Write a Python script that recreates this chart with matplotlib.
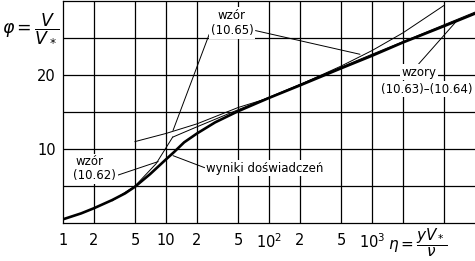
import numpy as np
import matplotlib
matplotlib.use("Agg")
import matplotlib.pyplot as plt

plt.rcParams['font.family'] = ['DejaVu Sans']
plt.rcParams['mathtext.fontset'] = 'dejavusans'

# experimental curve (wyniki doswiadczen)
eta_exp = [1, 1.5, 2, 3, 4, 5, 7, 10, 12, 15, 20, 30, 50, 100, 200, 500, 1000, 2000, 5000, 10000]
phi_exp = [0.5, 1.3, 2.0, 3.1, 4.0, 4.9, 6.6, 8.6, 9.6, 10.9, 12.1, 13.6, 15.1, 16.9, 18.6, 20.9, 22.6, 24.4, 26.6, 28.3]

# wzor (10.62): phi = eta
eta_lin = [3, 5, 8, 11.6]
phi_lin = [3, 5, 8, 11.6]

# wzory (10.63)-(10.64): log law
eta_log = [11.6, 20, 50, 100, 1000, 10000]
phi_log = [11.6, 13.0, 15.3, 17.0, 22.8, 28.5]

# wzor (10.65): power law
eta_pow = [5, 10, 20, 50, 100, 200, 500, 1000, 2000, 5000]
phi_pow = [11.0, 12.1, 13.4, 15.6, 16.9, 18.7, 21.2, 23.3, 25.7, 29.4]

xticks = [1, 2, 5, 10, 20, 50, 100, 200, 500, 1000]
xlabels = ['1', '2', '5', '10', '2', '5', r'$10^2$', '2', '5', r'$10^3$']
xgrid = [2, 5, 10, 20, 50, 100, 200, 500, 1000, 2000, 5000]
ygrid = [5, 10, 15, 20, 25]

fig = plt.figure(figsize=(4.75, 2.61), dpi=100)
ax = fig.add_axes([63 / 475, 38 / 261, 1 - 63 / 475, 222 / 261])

for g in xgrid:
    ax.axvline(g, color='black', lw=0.9, zorder=1)
for g in ygrid:
    ax.axhline(g, color='black', lw=0.9, zorder=1)

ax.plot(eta_lin, phi_lin, color='black', lw=0.7, zorder=3)
ax.plot(eta_log, phi_log, color='black', lw=0.7, zorder=3)
ax.plot(eta_pow, phi_pow, color='black', lw=0.7, zorder=3)
ax.plot(eta_exp, phi_exp, color='black', lw=1.9, zorder=4)

ax.set_xscale('log')
ax.set_xlim(1, 10000)
ax.set_ylim(0, 30)
ax.set_xticks(xticks)
ax.set_xticklabels(xlabels)
ax.set_xticks([], minor=True)
ax.set_yticks([10, 20])
ax.set_yticklabels(['10', '20'])
ax.tick_params(length=0, labelsize=10.5, pad=7)
ax.tick_params(axis='y', pad=5)
for s in ['left', 'bottom', 'top']:
    ax.spines[s].set_linewidth(0.9)
ax.spines['right'].set_visible(False)

box = dict(facecolor='white', edgecolor='none', pad=1.0)
line = dict(arrowstyle='-', lw=0.7, color='black', shrinkA=0, shrinkB=0)
fs = 8.5

# wzor (10.65)
ax.text(43.7, 28.1, 'wzór', fontsize=fs, ha='center', va='center', bbox=box, zorder=5)
ax.annotate('(10.65)', xy=(11.7, 12.5), xytext=(43.7, 26.0), fontsize=fs,
            ha='center', va='center', bbox=box, zorder=5,
            arrowprops=dict(line, relpos=(0, 0.5)))
ax.annotate('', xy=(764, 22.8), xytext=(74, 26.0), arrowprops=line, zorder=5)

# wzory (10.63)-(10.64)
ax.annotate('wzory', xy=(6540, 27.2), xytext=(2860, 20.4), fontsize=fs,
            ha='center', va='center', bbox=box, zorder=5,
            arrowprops=dict(line, relpos=(0.45, 1)))
ax.text(3400, 18.1, '(10.63)–(10.64)', fontsize=fs, ha='center', va='center',
        bbox=box, zorder=5)

# wzor (10.62)
ax.text(1.79, 8.3, 'wzór', fontsize=fs, ha='center', va='center', bbox=box, zorder=5)
ax.annotate('(10.62)', xy=(8.4, 8.3), xytext=(2.04, 6.4), fontsize=fs,
            ha='center', va='center', bbox=box, zorder=5,
            arrowprops=dict(line, relpos=(1, 0.5)))

# wyniki doswiadczen
ax.annotate('wyniki doświadczeń', xy=(11.7, 9.1), xytext=(24.5, 7.4), fontsize=fs,
            ha='left', va='center', bbox=box, zorder=5,
            arrowprops=dict(line, relpos=(0, 0.5)))

fig.text(2 / 475, 1 - 28 / 261, r'$\varphi=\dfrac{V}{V_*}$', fontsize=12.5,
         ha='left', va='center')
fig.text(388 / 475, 1 - 243 / 261, r'$\eta=\dfrac{yV_*}{\nu}$', fontsize=11,
         ha='left', va='center')

fig.savefig('out.png', dpi=100)
